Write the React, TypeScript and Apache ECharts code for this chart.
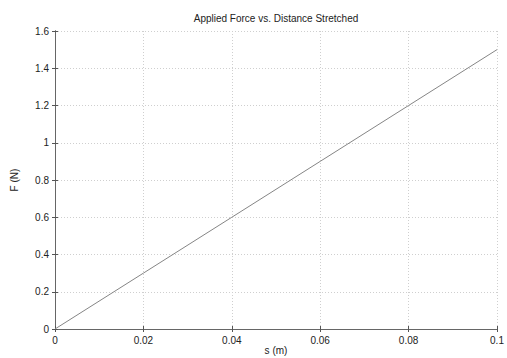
import React, { useEffect, useRef } from "react";
import * as echarts from "echarts";

const sValues = [0, 0.02, 0.04, 0.06, 0.08, 0.1];
const fValues = [0, 0.3, 0.6, 0.9, 1.2, 1.5];
const titleText = "Applied Force vs. Distance Stretched";
const xName = "s (m)";
const yName = "F (N)";

const FONT = "Liberation Sans, Arial, Helvetica, sans-serif";

export default function App() {
  const ref = useRef<HTMLDivElement>(null);
  useEffect(() => {
    if (!ref.current) return;
    const chart = echarts.init(ref.current, undefined, { renderer: "svg" });
    const mainLine = { show: true, lineStyle: { color: "#333", width: 1 } };
    const mirrorLine = { show: true, lineStyle: { color: "#666", width: 1 } };
    const tick = { show: true, inside: true, length: 3, lineStyle: { color: "#555" } };
    const split = { show: true, lineStyle: { color: "#cfcfcf", type: [1, 2] as any, width: 1 } };
    const label = { color: "#222", fontFamily: FONT, fontSize: 10 };
    chart.setOption({
      animation: false,
      backgroundColor: "#fff",
      graphic: [
        {
          type: "text",
          x: 276,
          y: 18,
          style: {
            text: titleText,
            fill: "#222",
            font: "10px Liberation Sans, Arial, sans-serif",
            textAlign: "center",
            textVerticalAlign: "middle",
          },
        },
      ],
      grid: { left: 55, right: 10, top: 31, bottom: 29, containLabel: false, outerBoundsMode: "none" },
      xAxis: [
        {
          type: "value",
          min: 0,
          max: 0.1,
          interval: 0.02,
          name: xName,
          nameLocation: "middle",
          nameGap: 16,
          nameMoveOverlap: false,
          nameTextStyle: { fontFamily: FONT, fontSize: 10, color: "#222" },
          axisLine: mainLine,
          axisTick: tick,
          splitLine: split,
          axisLabel: { ...label, margin: 6, formatter: (v: number) => String(+v.toFixed(2)) },
        },
        {
          type: "value",
          position: "top",
          min: 0,
          max: 0.1,
          interval: 0.02,
          axisLine: mirrorLine,
          axisTick: tick,
          splitLine: { show: false },
          axisLabel: { show: false },
        },
      ],
      yAxis: [
        {
          type: "value",
          min: 0,
          max: 1.6,
          interval: 0.2,
          name: yName,
          nameLocation: "middle",
          nameGap: 36,
          nameMoveOverlap: false,
          nameRotate: 90,
          nameTextStyle: { fontFamily: FONT, fontSize: 10, color: "#222" },
          axisLine: mainLine,
          axisTick: tick,
          splitLine: split,
          axisLabel: { ...label, margin: 6, formatter: (v: number) => String(+v.toFixed(1)) },
        },
        {
          type: "value",
          position: "right",
          min: 0,
          max: 1.6,
          interval: 0.2,
          axisLine: mirrorLine,
          axisTick: tick,
          splitLine: { show: false },
          axisLabel: { show: false },
        },
      ],
      series: [
        {
          type: "line",
          data: sValues.map((s, i) => [s, fValues[i]]),
          showSymbol: false,
          lineStyle: { color: "#858585", width: 1 },
          xAxisIndex: 0,
          yAxisIndex: 0,
        },
      ],
    });
    return () => chart.dispose();
  }, []);
  return <div ref={ref} style={{ width: 507, height: 358, position: "absolute", left: 0, top: 0 }} />;
}
